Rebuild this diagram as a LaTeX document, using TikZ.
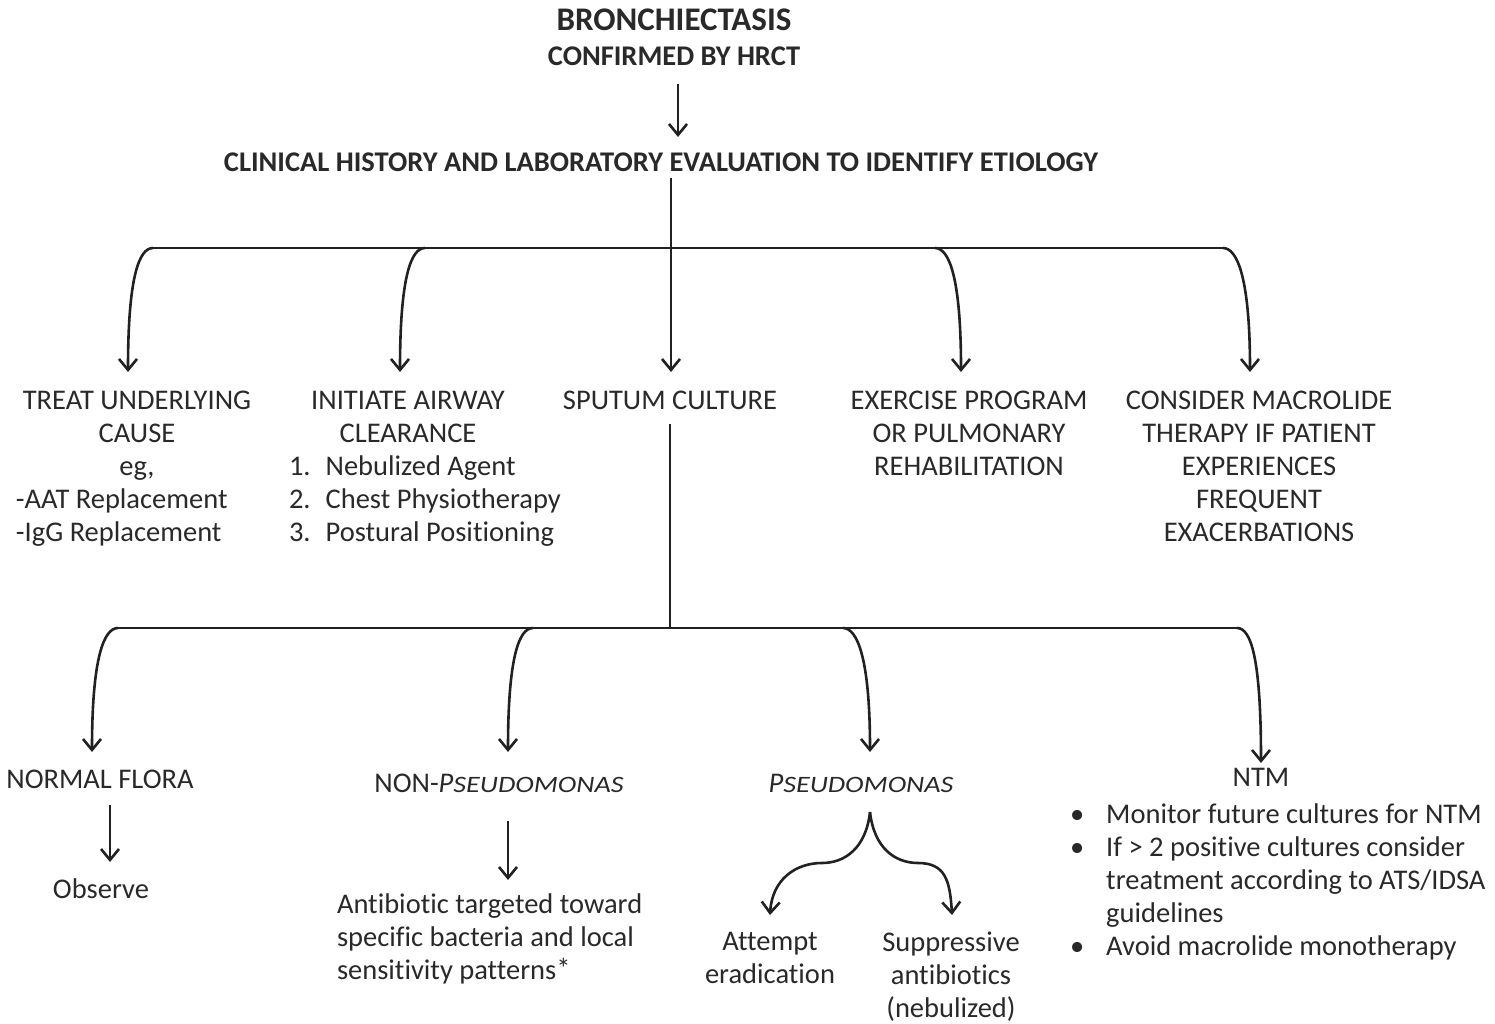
\documentclass[tikz,border=0pt]{standalone}
\usepackage{fontspec}
\usepackage{graphicx}
\setmainfont[Ligatures={NoCommon}]{Carlito}
\usetikzlibrary{arrows.meta}
\definecolor{ink}{gray}{0.13}
\definecolor{txtc}{gray}{0.16}
% italic small-capital style genus name
\newcommand{\pseudo}{\textit{P\scalebox{1.2}[1]{\fontsize{23.5}{33}\selectfont SEUDOMONAS}}}
\begin{document}
\begin{tikzpicture}[x=1pt,y=-1pt,
  every node/.style={inner sep=0pt,outer sep=0pt,text=txtc,font=\fontsize{28.5}{33}\selectfont},
  txt/.style={anchor=north,align=center},
  ltxt/.style={anchor=north west,align=left},
  link/.style={draw=ink,line width=2.6pt},
  arr/.style={link,-{Straight Barb[length=11pt,width=18pt]}}]
\useasboundingbox (0,0) rectangle (1495,1024);

% heading
\node[txt,font=\bfseries\fontsize{33}{33}\selectfont] (title) at (674,9) {BRONCHIECTASIS};
\node[txt,font=\bfseries\fontsize{28.5}{33}\selectfont] (conf) at (674,47) {CONFIRMED BY HRCT};
\node[txt,font=\bfseries\fontsize{28.5}{33}\selectfont] (eval) at (661,153) {CLINICAL HISTORY AND LABORATORY EVALUATION TO IDENTIFY ETIOLOGY};

% second level
\node[txt] (treat) at (137,391) {TREAT UNDERLYING\\CAUSE\\eg,};
\node[ltxt] (treatlist) at (16,489) {-AAT Replacement\\-IgG Replacement};
\node[txt] (airway) at (408,391) {INITIATE AIRWAY\\CLEARANCE};
\node[ltxt] (airlist) at (289,452) {\begin{tabular}{@{}l@{\hspace{15pt}}l@{}}1.&Nebulized Agent\\2.&Chest Physiotherapy\\3.&Postural Positioning\end{tabular}};
\node[txt] (sputum) at (670,391) {SPUTUM CULTURE};
\node[txt] (exercise) at (969,391) {EXERCISE PROGRAM\\OR PULMONARY\\REHABILITATION};
\node[txt] (macro) at (1259,391) {CONSIDER MACROLIDE\\THERAPY IF PATIENT\\EXPERIENCES\\FREQUENT\\EXACERBATIONS};

% third level
\node[txt] (normal) at (100,770) {NORMAL FLORA};
\node[txt] (observe) at (101,879) {Observe};
\node[txt] (nonps) at (499,774) {NON-\pseudo};
\node[ltxt] (antib) at (337,894) {Antibiotic targeted toward\\specific bacteria and local\\sensitivity patterns\raisebox{1.5pt}{*}};
\node[txt] (pseudo) at (861,774) {\pseudo};
\node[txt] (attempt) at (770,932) {Attempt\\eradication};
\node[txt] (suppr) at (951,932) {Suppressive\\antibiotics\\(nebulized)};
\node[txt] (ntm) at (1261,768) {NTM};
\node[ltxt] (ntmlist) at (1070,800) {\begin{tabular}{@{}l@{\hspace{22pt}}l@{}}
  \textbullet&Monitor future cultures for NTM\\
  \textbullet&If > 2 positive cultures consider\\
  &treatment according to ATS/IDSA\\
  &guidelines\\
  \textbullet&Avoid macrolide monotherapy\end{tabular}};

% junction points of the two distribution bars
\coordinate (hubA) at (671,248);
\coordinate (a1) at (153,248); \coordinate (a2) at (425,248);
\coordinate (a4) at (935,248); \coordinate (a5) at (1223,248);
\coordinate (hubB) at (670,628);
\coordinate (b1) at (118,628); \coordinate (b2) at (533,628);
\coordinate (b3) at (843,628); \coordinate (b4) at (1237,628);
\coordinate (split) at (870,812);
\coordinate (bend1) at (822,863); \coordinate (bend2) at (918,863);

% arrow tips above their targets
\coordinate (toEval) at (678,137);
\coordinate (toTreat) at (128,372); \coordinate (toAirway) at (400,372);
\coordinate (toSputum) at (671,372); \coordinate (toExercise) at (961,372);
\coordinate (toMacro) at (1250,372);
\coordinate (toNormal) at (92,752); \coordinate (toNonps) at (508,752);
\coordinate (toPseudo) at (870,752); \coordinate (toNtm) at (1261,763);
\coordinate (toObserve) at (110,862); \coordinate (toAntib) at (508,880);
\coordinate (toAttempt) at (770,915); \coordinate (toSuppr) at (952,915);

% straight arrows
\draw[arr] (conf.south -| toEval) ++(0,18) -- (toEval);
\draw[arr] (eval.south -| toSputum) ++(0,6) -- (toSputum);
\draw[arr] (normal.south -| toObserve) ++(0,16) -- (toObserve);
\draw[arr] (nonps.south -| toAntib) ++(0,28) -- (toAntib);

% upper bar and its branches
\draw[link] (a1) -- (a5);
\draw[arr] (a1) .. controls +(-14,0) and +(0,-95) .. (toTreat);
\draw[arr] (a2) .. controls +(-14,0) and +(0,-95) .. (toAirway);
\draw[arr] (a4) .. controls +(14,0) and +(0,-95) .. (toExercise);
\draw[arr] (a5) .. controls +(14,0) and +(0,-95) .. (toMacro);

% lower bar and its branches
\draw[link] (sputum.south -| hubB) ++(0,14) -- (hubB);
\draw[link] (b1) -- (b4);
\draw[arr] (b1) .. controls +(-14,0) and +(0,-95) .. (toNormal);
\draw[arr] (b2) .. controls +(-14,0) and +(0,-95) .. (toNonps);
\draw[arr] (b3) .. controls +(14,0) and +(0,-95) .. (toPseudo);
\draw[arr] (b4) .. controls +(14,0) and +(0,-105) .. (toNtm);

% pseudomonas split
\draw[arr] (split) .. controls +(-4,36) and +(23,0) .. (bend1)
  .. controls +(-27,0) and +(2,-35) .. (toAttempt);
\draw[arr] (split) .. controls +(4,36) and +(-23,0) .. (bend2)
  .. controls +(27,0) and +(-2,-35) .. (toSuppr);
\end{tikzpicture}
\end{document}
